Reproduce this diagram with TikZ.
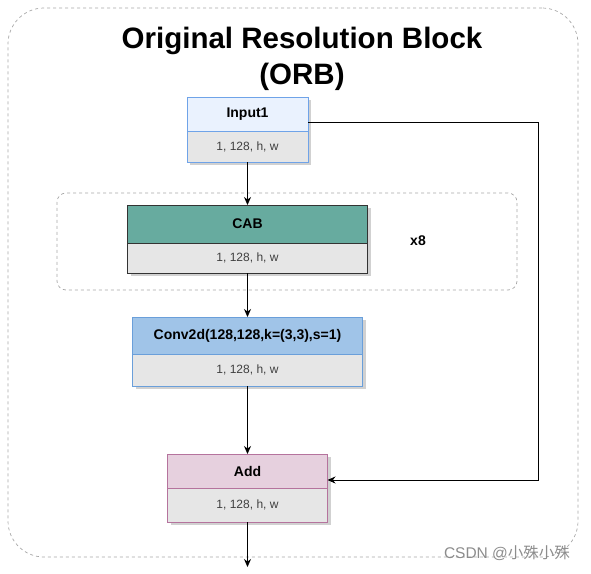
\documentclass[tikz,border=0pt]{standalone}
\usepackage{fontspec}
\setmainfont{Liberation Sans}
\newfontfamily\cjkfont{Noto Sans CJK SC}
\usetikzlibrary{positioning, backgrounds, arrows.meta, shadows}
\definecolor{inpfill}{HTML}{EAF2FE}
\definecolor{inpline}{HTML}{6FA3E8}
\definecolor{cabfill}{HTML}{67AB9F}
\definecolor{convfill}{HTML}{A0C4E8}
\definecolor{convline}{HTML}{6A9FDA}
\definecolor{addfill}{HTML}{E6D0DE}
\definecolor{addline}{HTML}{B5739D}
\definecolor{bodyfill}{HTML}{E6E6E6}

\begin{document}
\begin{tikzpicture}[
    >={Stealth[length=8pt,width=7pt]},
    block/.style={draw, line width=0.8pt, inner sep=0pt, outer sep=0pt, align=center,
      drop shadow={shadow xshift=3pt, shadow yshift=-3pt, fill=black!30, opacity=0.6}},
    head/.style={block, font=\fontsize{14}{16}\selectfont\bfseries},
    body/.style={block, fill=bodyfill, text=black!75, font=\fontsize{12}{14}\selectfont},
    arrow/.style={->, line width=0.8pt},
    groupbox/.style={draw=black!35, dashed, line width=0.7pt, rounded corners=9pt}
  ]
    \useasboundingbox (0,0) rectangle (591pt,-573pt);

    \node[groupbox, rounded corners=36pt, minimum width=570pt, minimum height=549pt] (outer) at (293pt,-282.5pt) {};
    \node[font=\fontsize{29.5}{36}\selectfont\bfseries, align=center] (title) at (302pt,-59pt) {Original Resolution Block\\(ORB)};

    \node[head, fill=inpfill, draw=inpline, minimum width=121pt, minimum height=34pt] (in1) at (247.5pt,-114pt) {Input1};
    \node[body, draw=inpline, minimum width=121pt, minimum height=31pt, below=0pt of in1] (in1d) {1, 128, h, w};

    % ==========================================
    \node[head, fill=cabfill, draw=black!80, minimum width=240pt, minimum height=38pt, below=43pt of in1d] (cab) {CAB};
    \node[body, draw=black!80, minimum width=240pt, minimum height=30pt, below=0pt of cab] (cabd) {1, 128, h, w};
    \node[font=\fontsize{14}{16}\selectfont\bfseries] (rep) at (418pt,-241pt) {x8};
    \begin{scope}[on background layer]
      \node[groupbox, minimum width=460pt, minimum height=97pt] (loop) at (287pt,-241.5pt) {};
    \end{scope}

    % ==========================================
    \node[head, fill=convfill, draw=convline, minimum width=230pt, minimum height=37pt, below=44pt of cabd] (conv) {Conv2d(128,128,k=(3,3),s=1)};
    \node[body, draw=convline, minimum width=230pt, minimum height=32pt, below=0pt of conv] (convd) {1, 128, h, w};

    \node[head, fill=addfill, draw=addline, minimum width=160pt, minimum height=34pt, below=68pt of convd] (add) {Add};
    \node[body, draw=addline, minimum width=160pt, minimum height=34pt, below=0pt of add] (addd) {1, 128, h, w};
    \coordinate[below=45pt of addd] (out);

    \draw[arrow] (in1d) -- (cab);
    \draw[arrow] (cabd) -- (conv);
    \draw[arrow] (convd) -- (add);
    \draw[arrow] (addd) -- (out);
    \draw[arrow] ([yshift=-8pt]in1.east) -- ++(230pt,0) |- ([yshift=-9pt]add.east);

    \node[text=black!45, font=\fontsize{15.5}{17}\selectfont] (mark) at (507pt,-553pt) {CSDN @{\cjkfont 小殊小殊}};
\end{tikzpicture}
\end{document}
